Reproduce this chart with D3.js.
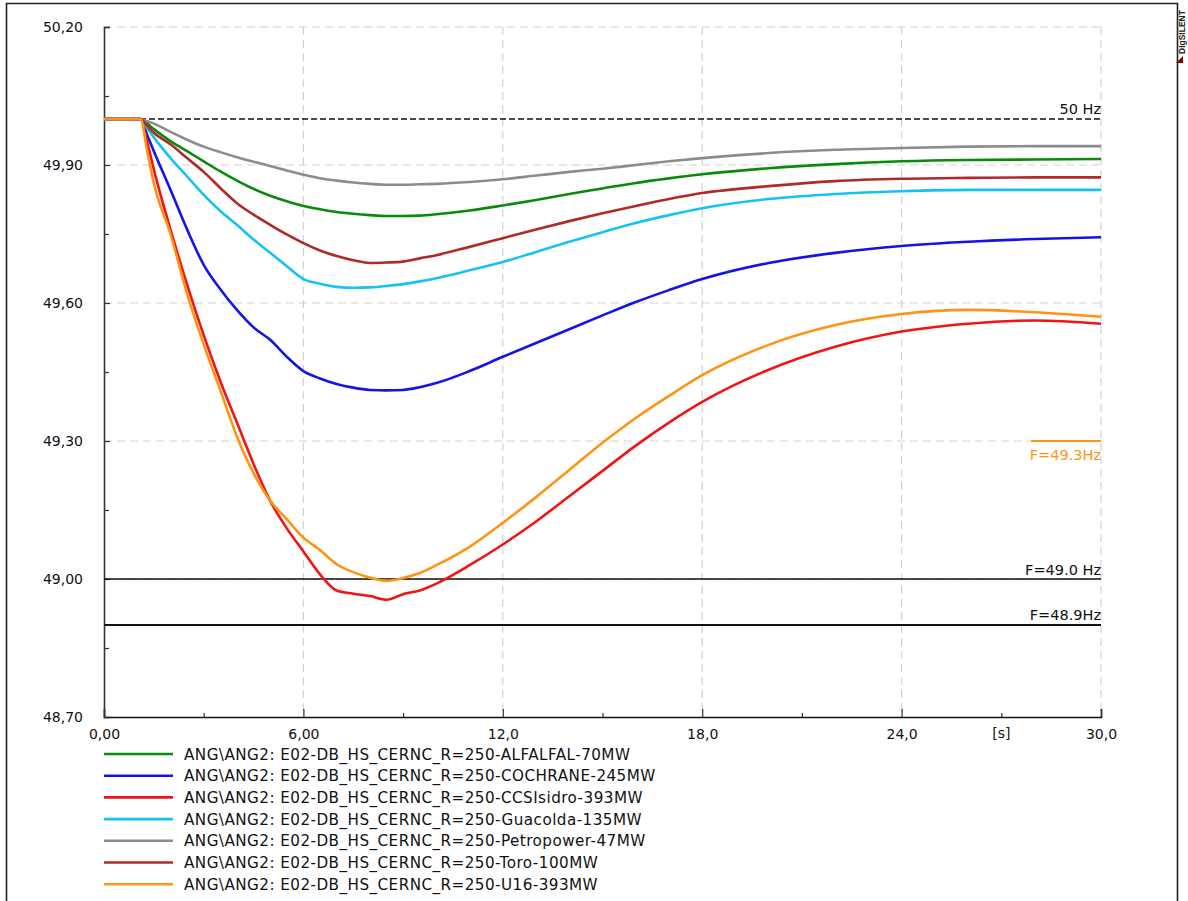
<!DOCTYPE html>
<html>
<head>
<meta charset="utf-8">
<script src="https://cdn.jsdelivr.net/npm/d3@7/dist/d3.min.js"></script>
<style>
  html, body { margin: 0; padding: 0; background: #fff; }
  svg { display: block; font-family: "DejaVu Sans", Verdana, sans-serif; }
</style>
</head>
<body>
<svg id="chart" width="1188" height="901"></svg>
<script>
// Simulation time base [s]
const time = [0, 1.1, 1.3, 1.5, 2, 2.5, 3, 3.5, 4, 4.5, 5, 5.5, 6, 6.5, 7, 7.5, 8, 8.5, 9, 9.5, 10, 11, 12, 13, 14, 15, 16, 17, 18, 20, 22, 24, 26, 28, 30];

// Frequency [Hz] for each generator trip case
const alfalfal = [50, 50, 49.99, 49.978, 49.952, 49.93, 49.908, 49.886, 49.866, 49.848, 49.833, 49.821, 49.811, 49.804, 49.798, 49.794, 49.791, 49.789, 49.789, 49.79, 49.793, 49.801, 49.812, 49.824, 49.837, 49.849, 49.861, 49.871, 49.88, 49.893, 49.902, 49.908, 49.911, 49.912, 49.913];
const cochrane = [50, 50, 49.965, 49.93, 49.846, 49.76, 49.683, 49.63, 49.585, 49.547, 49.52, 49.483, 49.452, 49.436, 49.424, 49.416, 49.411, 49.41, 49.411, 49.417, 49.426, 49.452, 49.483, 49.513, 49.543, 49.573, 49.602, 49.628, 49.652, 49.687, 49.709, 49.724, 49.733, 49.739, 49.743];
const ccsIsidro = [50, 50, 49.95, 49.89, 49.76, 49.64, 49.53, 49.43, 49.34, 49.25, 49.17, 49.11, 49.06, 49.01, 48.975, 48.968, 48.963, 48.955, 48.967, 48.975, 48.99, 49.03, 49.075, 49.125, 49.18, 49.235, 49.29, 49.34, 49.385, 49.455, 49.505, 49.538, 49.555, 49.562, 49.555];
const guacolda = [50, 50, 49.98, 49.96, 49.915, 49.875, 49.835, 49.8, 49.77, 49.738, 49.709, 49.68, 49.652, 49.642, 49.635, 49.633, 49.634, 49.637, 49.641, 49.647, 49.654, 49.671, 49.689, 49.711, 49.733, 49.754, 49.774, 49.791, 49.806, 49.826, 49.837, 49.843, 49.846, 49.846, 49.846];
const petropower = [50, 50, 49.995, 49.99, 49.972, 49.955, 49.94, 49.928, 49.917, 49.907, 49.898, 49.888, 49.879, 49.871, 49.866, 49.862, 49.859, 49.857, 49.857, 49.858, 49.859, 49.863, 49.869, 49.877, 49.885, 49.892, 49.9, 49.908, 49.915, 49.926, 49.933, 49.937, 49.94, 49.941, 49.941];
const toro = [50, 50, 49.985, 49.97, 49.945, 49.915, 49.885, 49.85, 49.817, 49.792, 49.77, 49.749, 49.73, 49.714, 49.702, 49.693, 49.687, 49.688, 49.69, 49.697, 49.704, 49.722, 49.741, 49.76, 49.778, 49.795, 49.811, 49.826, 49.839, 49.854, 49.865, 49.87, 49.872, 49.873, 49.873];
const u16 = [50, 50, 49.93, 49.86, 49.75, 49.62, 49.51, 49.41, 49.31, 49.23, 49.17, 49.13, 49.09, 49.063, 49.032, 49.015, 49.003, 48.996, 49.002, 49.013, 49.03, 49.07, 49.122, 49.178, 49.237, 49.296, 49.35, 49.398, 49.443, 49.509, 49.552, 49.576, 49.585, 49.58, 49.57];

const seriesNames = [
  "ANG\\ANG2: E02-DB_HS_CERNC_R=250-ALFALFAL-70MW",
  "ANG\\ANG2: E02-DB_HS_CERNC_R=250-COCHRANE-245MW",
  "ANG\\ANG2: E02-DB_HS_CERNC_R=250-CCSIsidro-393MW",
  "ANG\\ANG2: E02-DB_HS_CERNC_R=250-Guacolda-135MW",
  "ANG\\ANG2: E02-DB_HS_CERNC_R=250-Petropower-47MW",
  "ANG\\ANG2: E02-DB_HS_CERNC_R=250-Toro-100MW",
  "ANG\\ANG2: E02-DB_HS_CERNC_R=250-U16-393MW"
];
const seriesValues = [alfalfal, cochrane, ccsIsidro, guacolda, petropower, toro, u16];
const seriesColors = ["#0a8a0a", "#1414e6", "#f21414", "#14c3f5", "#8c8c8c", "#b02a2a", "#ff9414"];

// Axis ticks
const xMajorTicks = [0, 6, 12, 18, 24, 30];
const xMinorTicks = [3, 9, 15, 21, 27];
const xTickLabels = ["0,00", "6,00", "12,0", "18,0", "24,0", "30,0"];
const yMajorTicks = [50.2, 49.9, 49.6, 49.3, 49.0, 48.7];
const yMinorTicks = [50.05, 49.75, 49.45, 49.15, 48.85];
const yTickLabels = ["50,20", "49,90", "49,60", "49,30", "49,00", "48,70"];
const xUnit = "[s]";

// Reference limits
const refNominal = { value: 50.0, label: "50 Hz" };
const ref493 = { value: 49.3, from: 27.9, label: "F=49.3Hz" };
const ref490 = { value: 49.0, label: "F=49.0 Hz" };
const ref489 = { value: 48.9, label: "F=48.9Hz" };

const svg = d3.select("#chart");
const plot = { left: 104, right: 1101, top: 27, bottom: 717 };

const x = d3.scaleLinear().domain([0, 30]).range([plot.left, plot.right]);
const y = d3.scaleLinear().domain([48.7, 50.2]).range([plot.bottom, plot.top]);

// Outer frame
svg.append("path")
  .attr("d", `M6.5,905 L6.5,3.5 L1177.5,3.5 L1177.5,905`)
  .attr("fill", "none").attr("stroke", "#222").attr("stroke-width", 1.6);

// Grid
const grid = svg.append("g").attr("stroke", "#d2d2d2").attr("stroke-width", 1.2)
  .attr("stroke-dasharray", "8,5").attr("fill", "none");
xMajorTicks.filter(d => d > 0).forEach(d => {
  grid.append("line").attr("x1", x(d)).attr("x2", x(d)).attr("y1", y(50.2)).attr("y2", y(48.7));
});
yMajorTicks.filter(d => d > 48.7).forEach(d => {
  grid.append("line").attr("x1", x(0)).attr("x2", x(30)).attr("y1", y(d)).attr("y2", y(d));
});

// Axes
const xAxis = d3.axisBottom(x).tickValues(xMajorTicks).tickSize(-8).tickFormat((d, i) => xTickLabels[i]).tickPadding(12);
const gx = svg.append("g").attr("transform", `translate(0,${plot.bottom})`).call(xAxis);
gx.select(".domain").attr("stroke", "#111").attr("stroke-width", 1.6);
gx.selectAll(".tick line").attr("stroke", "#333").attr("stroke-width", 1.2);
gx.selectAll(".tick text").attr("font-size", 14).attr("fill", "#111").attr("font-family", "DejaVu Sans");
svg.append("g").attr("transform", `translate(0,${plot.bottom})`)
  .call(d3.axisBottom(x).tickValues(xMinorTicks).tickSize(-4).tickFormat(""))
  .call(g => g.select(".domain").remove())
  .selectAll(".tick line").attr("stroke", "#333").attr("stroke-width", 1.2);
svg.append("text").attr("x", x(27)).attr("y", plot.bottom + 21)
  .attr("text-anchor", "middle").attr("font-size", 14).attr("fill", "#111").text(xUnit);

const yAxis = d3.axisLeft(y).tickValues(yMajorTicks).tickSize(-6).tickFormat((d, i) => yTickLabels[i]).tickPadding(21);
const gy = svg.append("g").attr("transform", `translate(${plot.left},0)`).call(yAxis);
gy.select(".domain").attr("stroke", "#333").attr("stroke-width", 1.6);
gy.selectAll(".tick line").attr("stroke", "#333").attr("stroke-width", 1.2);
gy.selectAll(".tick text").attr("font-size", 14).attr("fill", "#111").attr("font-family", "DejaVu Sans");
svg.append("g").attr("transform", `translate(${plot.left},0)`)
  .call(d3.axisLeft(y).tickValues(yMinorTicks).tickSize(-5).tickFormat(""))
  .call(g => g.select(".domain").remove())
  .selectAll(".tick line").attr("stroke", "#333").attr("stroke-width", 1.2);

// Reference lines
const refFont = 14.5;
svg.append("line").attr("x1", x(0)).attr("x2", x(30)).attr("y1", y(refNominal.value)).attr("y2", y(refNominal.value))
  .attr("stroke", "#111").attr("stroke-width", 1.5).attr("stroke-dasharray", "6,3");
svg.append("text").attr("x", x(30)).attr("y", y(refNominal.value) - 5).attr("text-anchor", "end")
  .attr("font-size", refFont).attr("fill", "#111").text(refNominal.label);

svg.append("line").attr("x1", x(ref493.from)).attr("x2", x(30)).attr("y1", y(ref493.value)).attr("y2", y(ref493.value))
  .attr("stroke", "#ff9414").attr("stroke-width", 2);
svg.append("text").attr("x", x(30)).attr("y", y(ref493.value) + 19).attr("text-anchor", "end")
  .attr("font-size", refFont).attr("fill", "#ff9414").text(ref493.label);

svg.append("line").attr("x1", x(0)).attr("x2", x(30)).attr("y1", y(ref490.value)).attr("y2", y(ref490.value))
  .attr("stroke", "#111").attr("stroke-width", 1.6);
svg.append("text").attr("x", x(30)).attr("y", y(ref490.value) - 4).attr("text-anchor", "end")
  .attr("font-size", refFont).attr("fill", "#111").text(ref490.label);

svg.append("line").attr("x1", x(0)).attr("x2", x(30)).attr("y1", y(ref489.value)).attr("y2", y(ref489.value))
  .attr("stroke", "#111").attr("stroke-width", 2);
svg.append("text").attr("x", x(30)).attr("y", y(ref489.value) - 5).attr("text-anchor", "end")
  .attr("font-size", refFont).attr("fill", "#111").text(ref489.label);

// Frequency curves
const line = d3.line().x(d => x(d[0])).y(d => y(d[1])).curve(d3.curveMonotoneX);
seriesValues.forEach((vals, i) => {
  svg.append("path")
    .datum(time.map((t, k) => [t, vals[k]]))
    .attr("d", line)
    .attr("fill", "none")
    .attr("stroke", seriesColors[i])
    .attr("stroke-width", 2.6)
    .attr("stroke-linejoin", "round");
});

// Legend
const legend = svg.append("g");
seriesNames.forEach((name, i) => {
  const ly = 754 + i * 21.7;
  legend.append("line").attr("x1", 104).attr("x2", 173).attr("y1", ly).attr("y2", ly)
    .attr("stroke", seriesColors[i]).attr("stroke-width", 2.6);
  legend.append("text").attr("x", 184).attr("y", ly + 5.5).attr("font-size", 15.2)
    .attr("letter-spacing", 0.45).attr("fill", "#111").text(name);
});

// Vendor mark
const mark = svg.append("g").attr("transform", "translate(1185,54)");
mark.append("text").attr("transform", "rotate(-90)").attr("x", 0).attr("y", 0)
  .attr("font-size", 8.5).attr("font-weight", "bold").attr("font-family", "Liberation Sans, Arial, sans-serif")
  .attr("fill", "#222").text("DIgSILENT");
mark.append("path").attr("d", "M-9,9 L-2,2 L-2,9 Z").attr("fill", "#8b0000");
</script>
</body>
</html>
